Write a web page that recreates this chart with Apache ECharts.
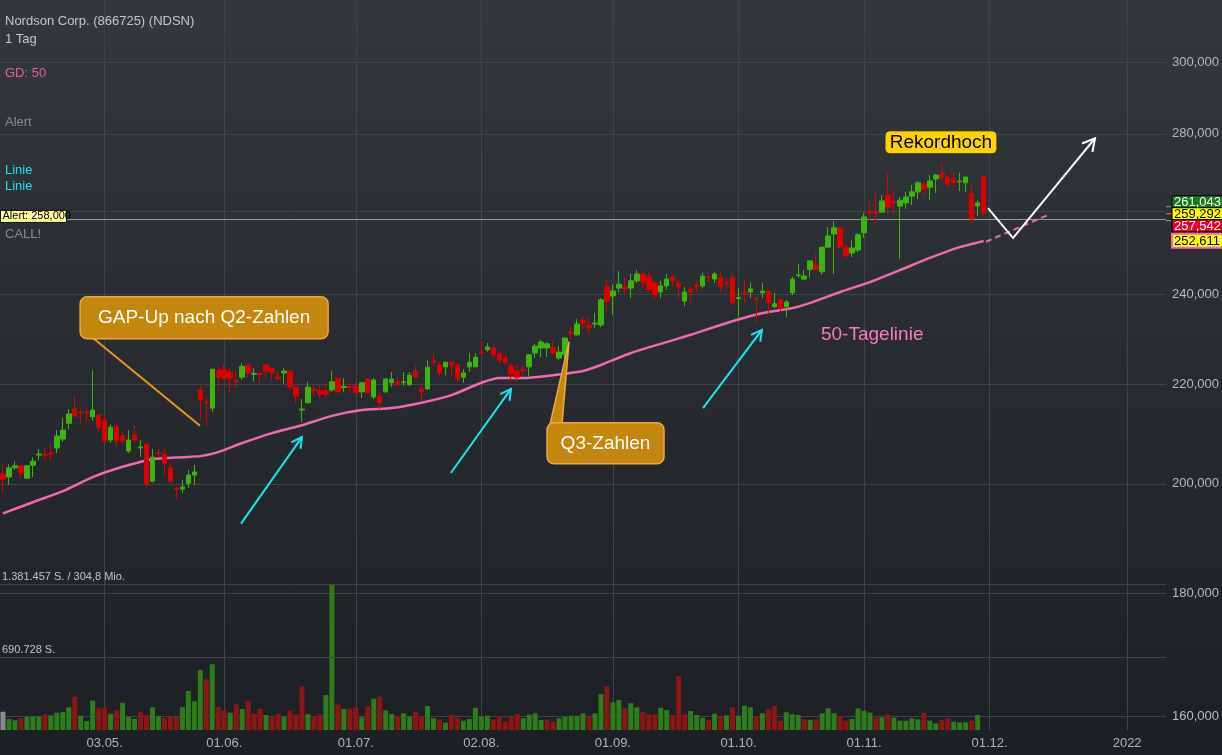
<!DOCTYPE html>
<html><head><meta charset="utf-8">
<script src="https://cdn.jsdelivr.net/npm/echarts@6/dist/echarts.min.js"></script>
<style>html,body{margin:0;padding:0;background:#24282c;}#c{width:1222px;height:755px;}</style>
</head><body><div id="c"></div>
<script>
// ---------- DATA (prices in thousands USD, volume in thousand shares) ----------
const opens=[201.9,201.3,203.1,203.5,201.1,203.6,205.6,205.8,206.0,207.0,208.8,212.0,214.9,214.3,214.3,213.3,213.7,212.7,208.6,211.4,209.4,206.4,209.6,207.0,207.8,200.5,206.1,205.8,203.1,199.1,199.0,200.1,201.7,218.9,216.4,215.1,223.1,223.3,222.7,220.8,221.6,224.2,222.2,222.4,224.2,223.5,221.6,222.5,222.9,219.5,214.7,216.2,219.0,218.7,218.7,218.9,221.4,219.4,219.6,219.7,218.5,221.2,217.4,217.6,218.5,220.4,220.6,220.4,220.0,222.9,219.1,219.1,225.0,224.2,223.8,224.8,224.2,221.6,223.8,223.8,227.0,227.5,227.9,226.6,225.7,224.0,222.9,223.2,223.8,226.8,227.9,227.9,227.9,225.7,226.4,231.4,230.8,234.1,232.8,233.2,233.0,241.7,239.6,241.4,241.7,241.4,243.1,244.7,244.0,242.6,240.5,241.9,244.0,242.6,238.4,241.2,242.1,241.9,244.1,243.5,243.8,242.7,243.8,239.0,240.4,240.5,239.0,240.3,240.7,237.1,238.7,237.1,240.3,244.3,243.5,245.8,246.8,245.2,251.1,254.3,255.8,251.1,249.7,250.4,254.6,259.8,259.6,259.7,264.0,262.3,261.2,262.0,263.7,264.8,266.8,266.0,268.1,269.4,268.6,268.1,267.4,267.1,264.3,261.2,268.8];
const closes=[200.9,203.1,203.5,202.1,203.5,204.4,205.8,205.6,205.8,209.4,210.6,213.9,213.5,214.1,214.1,214.7,211.2,208.4,211.2,208.4,208.4,208.6,208.6,207.2,199.9,205.2,205.9,204.0,200.5,198.9,199.4,201.7,202.3,216.8,216.2,223.3,221.6,221.4,221.4,220.6,223.9,222.5,222.4,222.2,222.9,222.5,221.2,222.9,219.5,217.6,214.9,219.5,218.8,218.0,218.0,220.6,218.5,219.6,219.4,218.3,220.4,218.3,221.0,216.2,221.2,221.2,220.0,220.6,222.0,221.6,218.5,223.7,224.8,222.5,224.8,224.2,221.2,222.5,224.8,225.9,226.8,228.1,226.4,225.3,224.8,222.2,221.6,223.0,226.4,228.3,229.2,228.8,226.8,227.0,230.1,231.2,233.2,233.4,232.3,233.4,238.7,238.4,240.7,242.3,241.2,243.1,244.7,242.8,241.0,239.8,241.9,243.5,243.1,241.7,240.5,240.5,241.7,244.2,243.9,244.7,241.7,242.5,238.0,239.2,240.2,241.2,238.8,240.7,238.0,237.8,236.8,238.2,243.5,244.5,244.2,247.8,245.8,251.1,253.8,255.8,251.1,249.0,250.9,254.1,258.5,259.6,259.4,262.5,260.9,262.1,262.7,263.5,264.8,267.1,265.5,267.6,269.1,268.6,266.8,267.3,267.6,268.6,258.0,262.0,259.3];
const lows=[198.2,199.8,202.7,200.9,200.9,201.3,204.6,204.6,204.4,206.0,208.2,210.8,213.3,212.0,212.5,212.5,210.2,208.0,208.0,207.2,208.0,206.0,208.0,205.2,199.6,200.3,205.2,201.7,200.3,197.1,198.2,199.2,199.8,212.7,211.4,214.3,218.5,221.0,218.3,219.3,221.0,221.4,220.6,220.4,221.4,221.0,220.8,220.2,218.9,216.2,212.2,216.2,217.6,217.2,217.2,218.5,218.3,218.5,218.5,218.3,217.2,218.1,217.0,214.9,218.3,219.5,219.5,219.7,219.7,221.6,216.6,218.9,224.0,221.6,222.0,222.0,220.6,220.4,222.7,223.8,226.1,227.1,225.9,224.4,224.2,220.6,220.6,221.8,221.8,225.7,225.9,225.9,226.4,225.3,225.1,229.7,230.6,231.9,231.2,232.3,232.5,236.2,235.3,240.3,240.3,239.1,242.6,241.4,240.5,238.9,239.1,241.0,241.7,239.1,237.3,238.0,240.5,241.4,242.8,242.6,240.5,241.7,237.8,234.8,238.0,239.1,233.7,239.1,235.7,236.8,235.7,234.8,239.8,243.8,243.3,243.8,245.4,244.5,250.9,244.7,250.9,248.5,248.7,249.9,253.3,257.7,257.0,259.4,259.4,259.4,248.2,260.5,261.5,263.0,263.7,262.7,264.5,267.6,266.3,266.0,265.0,264.8,257.0,258.7,258.7];
const highs=[203.8,203.8,204.4,203.7,203.5,205.2,206.8,207.0,208.0,210.6,213.1,214.9,217.8,214.7,214.9,223.1,213.7,213.3,211.8,211.8,210.4,210.6,211.6,208.6,207.8,206.8,206.8,206.8,204.2,199.4,200.7,202.7,203.7,220.4,217.4,223.3,223.7,224.6,223.5,222.7,224.6,224.4,223.5,222.5,224.2,223.7,222.7,223.5,223.1,219.5,217.0,220.6,219.9,219.9,220.4,222.9,221.6,221.4,220.4,220.4,220.6,221.4,221.4,218.5,221.4,222.7,221.6,222.7,222.7,224.0,220.4,225.3,226.6,224.8,224.8,224.8,224.6,223.3,226.8,226.8,229.7,229.0,228.6,227.2,227.0,224.4,224.4,224.4,226.6,228.8,229.7,229.2,229.4,228.3,230.3,232.5,234.3,234.8,234.8,235.7,239.1,243.5,242.3,245.4,244.0,244.7,245.6,245.6,245.2,243.3,243.1,244.7,244.5,243.1,241.7,241.7,243.1,245.0,245.0,245.2,245.2,243.8,244.7,241.4,243.3,242.8,239.4,242.6,240.7,240.3,238.9,238.7,244.0,247.0,245.6,247.8,249.4,251.1,256.0,257.5,256.0,252.1,252.8,254.5,259.5,262.2,264.5,264.0,269.7,265.3,263.5,264.8,266.5,267.6,266.8,269.1,269.4,272.0,268.6,269.9,269.7,268.6,266.5,262.7,268.8];
const volumes=[173,104,92,114,123,126,126,149,139,164,170,215,315,135,85,277,205,211,154,186,258,123,107,170,139,215,130,114,130,123,215,369,272,568,480,622,220,186,164,243,199,277,154,202,142,123,154,123,183,145,413,151,126,149,331,1381.457,243,199,205,215,120,227,296,315,186,151,132,158,126,173,132,227,111,101,69,142,116,88,104,211,126,135,101,132,79,126,154,111,145,158,95,97,79,111,123,135,135,158,126,158,338,413,262,284,205,253,215,173,149,149,211,189,142,511,149,180,142,116,97,154,132,139,215,135,230,215,132,158,196,230,88,167,149,142,104,95,101,158,205,158,132,88,104,205,183,164,120,120,145,116,88,88,111,101,164,88,63,95,111,79,73,73,88,142];
const maIdx=[0,5,10,15,20,25,30,33,36,40,45,50,55,60,65,70,75,80,83,87,92,97,100,105,110,115,120,125,128,132,135,140,145,150,155,160,164];
const maVal=[194.4,196.5,198.6,201.3,203.3,204.8,205.2,205.4,206.2,208.0,210.0,211.6,213.5,214.7,215.1,216.2,217.8,220.4,221.4,221.4,222.0,222.9,224.2,226.8,228.8,230.8,233.0,235.0,235.9,236.8,238.0,240.5,242.8,245.6,248.5,251.1,252.6];
const priceTicks=[160,180,200,220,240,260,280,300];
const volLevels=[1381.457,690.728];
const volLevelLabels=['1.381.457 S. / 304,8 Mio.','690.728 S.'];
const alertLevel=258;
const priceTags=[261.043,259.292,257.542,252.611];
const tickDates=['2021-05-03','2021-06-01','2021-07-01','2021-08-02','2021-09-01','2021-10-01','2021-11-01','2021-12-01','2022-01-03'];
const tickLabels=['03.05.','01.06.','01.07.','02.08.','01.09.','01.10.','01.11.','01.12.','2022'];
const holidays=['2021-05-31','2021-07-05','2021-09-06','2021-11-25'];
const firstDay='2021-04-08', lastDay='2021-11-30', totalSlots=195;

// ---------- categories: trading days, then future weekdays ----------
const categories=[];
(function(){
  let t=Date.parse(firstDay+'T00:00:00Z');
  while(categories.length<totalSlots){
    const d=new Date(t), s=d.toISOString().slice(0,10), wd=d.getUTCDay();
    if(wd!==0&&wd!==6&&(s>lastDay||holidays.indexOf(s)<0)) categories.push(s);
    t+=86400000;
  }
})();
const tickMap=new Map(tickDates.map((d,i)=>[d,tickLabels[i]]));

const FONT='"Liberation Sans", Arial, Helvetica, sans-serif';
const GRID='#3f4449';
const fmtPrice=v=>String(Math.round(v*1000)).replace(/\B(?=(\d{3})+(?!\d))/g,',');

const candleData=opens.map((o,i)=>[o,closes[i],lows[i],highs[i]]);
const volData=volumes.map((v,i)=>({value:v,itemStyle:{color: i===0?'#8a8a8a':(closes[i]>=closes[i-1]?'#2e7c1c':'#8c1515')}}));
const maData=maIdx.map((i,k)=>[i,maVal[k]]);

const chart=echarts.init(document.getElementById('c'),null,{renderer:'canvas'});
const option={
  animation:false,
  backgroundColor:new echarts.graphic.LinearGradient(0,0,0,1,[{offset:0,color:'#33383c'},{offset:1,color:'#1c1f23'}]),
  textStyle:{fontFamily:FONT},
  grid:{left:0,top:0,width:1166,height:730,containLabel:false},
  xAxis:{type:'category',data:categories,boundaryGap:true,
    axisLine:{show:false},axisTick:{show:false},splitLine:{show:false},
    axisLabel:{interval:(i,v)=>tickMap.has(v),formatter:v=>tickMap.get(v)||'',color:'#b4b4b4',fontSize:13,margin:7,fontFamily:FONT}},
  yAxis:[
    {type:'log',logBase:10,min:157.861,max:318.42,show:false,splitLine:{show:false}},
    {type:'value',min:0,max:1381.457*5,show:false,splitLine:{show:false}}
  ],
  series:[
    {type:'bar',name:'Volumen',xAxisIndex:0,yAxisIndex:1,barWidth:5,data:volData,z:1,
      markLine:{silent:true,symbol:'none',animation:false,
        lineStyle:{color:GRID,width:1,type:'solid'},
        label:{show:true,position:'insideStartTop',color:'#c4c4c4',fontSize:11,distance:[2,2],fontFamily:FONT},
        data:volLevels.map((v,i)=>({yAxis:v,label:{formatter:volLevelLabels[i]}}))}},
    {type:'line',name:'GD 50',xAxisIndex:0,yAxisIndex:0,data:maData,showSymbol:false,smooth:0.2,z:2,
      lineStyle:{color:'#f06aaf',width:2.5}},
    {type:'candlestick',name:'NDSN',xAxisIndex:0,yAxisIndex:0,data:candleData,barWidth:5,z:3,
      itemStyle:{color:'#3db40f',color0:'#dd0000',borderColor:'#3db40f',borderColor0:'#dd0000',borderWidth:1},
      markLine:{silent:true,symbol:'none',animation:false,z:1,
        lineStyle:{color:GRID,width:1,type:'solid'},
        label:{show:true,position:'end',color:'#b9b9b9',fontSize:13,distance:6,fontFamily:FONT,formatter:p=>fmtPrice(p.value)},
        data:[].concat(
          priceTicks.map(v=>v===260?{yAxis:v,label:{show:false}}:{yAxis:v}),
          tickDates.map(d=>({xAxis:d,label:{show:false}})),
          [{yAxis:alertLevel,label:{show:false},lineStyle:{color:'#9a9a9a',width:1}}]
        )}}
  ]
};
chart.setOption(option);

// ---------- annotations anchored in data space ----------
const x0=chart.convertToPixel({xAxisIndex:0},0);
const bw=chart.convertToPixel({xAxisIndex:0},1)-x0;
const X=i=>x0+i*bw;
const Y=v=>chart.convertToPixel({yAxisIndex:0},v);
const P=(i,v)=>[X(i),Y(v)];
const g=[];
const txt=(x,y,text,fill,size,align,extra)=>g.push(Object.assign({type:'text',x:x,y:y,z:100,
  style:{text:text,fill:fill,font:size+'px '+FONT,align:align||'left',verticalAlign:'middle'}},extra||{}));
function head(a,b,len,ang){
  const t=Math.atan2(b[1]-a[1],b[0]-a[0]);
  return [[b[0]-len*Math.cos(t-ang),b[1]-len*Math.sin(t-ang)],b,[b[0]-len*Math.cos(t+ang),b[1]-len*Math.sin(t+ang)]];
}
function arrow(a,b,color,w,len){
  g.push({type:'line',z:100,shape:{x1:a[0],y1:a[1],x2:b[0],y2:b[1]},style:{stroke:color,lineWidth:w}});
  g.push({type:'polyline',z:100,shape:{points:head(a,b,len,0.5)},style:{stroke:color,lineWidth:w,fill:null}});
}
// header texts
txt(5,21,'Nordson Corp. (866725) (NDSN)','#c6c6c6',13);
txt(5,39,'1 Tag','#c6c6c6',13);
txt(5,73,'GD: 50','#e8619f',13);
txt(5,122,'Alert','#8a8a8a',13);
txt(5,170,'Linie','#16e6f0',13);
txt(5,186,'Linie','#16e6f0',13);
txt(5,234,'CALL!','#8a8a8a',13);
// alert label
const ay=Y(alertLevel);
g.push({type:'rect',z:100,shape:{x:0.5,y:ay-8.5,width:66,height:12},style:{fill:'#ffff99',stroke:'#111',lineWidth:1}});
txt(2.5,ay-2.5,'Alert: 258,000','#000',11);
// GAP-Up callout
const gapA=P(15.05,230.1), gapB=P(32.95,211.5);
g.push({type:'line',z:100,shape:{x1:gapA[0],y1:gapA[1],x2:gapB[0],y2:gapB[1]},style:{stroke:'#e8961e',lineWidth:2}});
const gb=P(12.9,239.4);
g.push({type:'rect',z:101,shape:{x:gb[0],y:gb[1],width:248,height:42,r:7},style:{fill:'#c4860f',stroke:'#eaa846',lineWidth:1.5}});
txt(gb[0]+124,gb[1]+21,'GAP-Up nach Q2-Zahlen','#ffffff',19,'center',{z:102});
// Q3 callout
const qb=P(90.98,212.1), qtip=P(94.66,229.3);
g.push({type:'polygon',z:100,shape:{points:[[qb[0]+2,qb[1]+6],[qb[0]+15,qb[1]+1],qtip]},style:{fill:'#c4860f',stroke:'#eaa846',lineWidth:1.5}});
g.push({type:'rect',z:101,shape:{x:qb[0],y:qb[1],width:117,height:41,r:7},style:{fill:'#c4860f',stroke:'#eaa846',lineWidth:1.5}});
g.push({type:'polygon',z:101,shape:{points:[[qb[0]+4,qb[1]+5],[qb[0]+14,qb[1]+1.5],[qb[0]+14,qb[1]+6]]},style:{fill:'#c4860f'}});
txt(qb[0]+58.5,qb[1]+21,'Q3-Zahlen','#ffffff',19,'center',{z:102});
// cyan arrows
arrow(P(39.8,192.5),P(50.0,209.2),'#1ee3f0',2,12);
arrow(P(74.9,202.1),P(84.96,219.1),'#1ee3f0',2,12);
arrow(P(117.07,215.1),P(126.93,231.9),'#1ee3f0',2,12);
// 50-Tagelinie label
const tl=P(136.8,230.8);
txt(tl[0],tl[1],'50-Tagelinie','#f57dbd',19);
// Rekordhoch
const rk=P(147.5,280.8);
g.push({type:'rect',z:100,shape:{x:rk[0],y:rk[1],width:112,height:23,r:5},style:{fill:'#ffd200',stroke:'#2a2a2a',lineWidth:1}});
txt(rk[0]+56,rk[1]+12,'Rekordhoch','#000000',19,'center',{z:101});
// pink dashed projection of the 50-day line
const d1=P(164.4,252.4), d2=P(175.1,259.2);
g.push({type:'line',z:100,shape:{x1:d1[0],y1:d1[1],x2:d2[0],y2:d2[1]},style:{stroke:'#f06aaf',lineWidth:2,lineDash:[6,4]}});
// white zigzag scenario arrow
const z1=P(164.73,260.7), z2=P(168.92,253.3), z3=P(182.63,278.8);
g.push({type:'polyline',z:100,shape:{points:[z1,z2,z3]},style:{stroke:'#ffffff',lineWidth:2,fill:null}});
g.push({type:'polyline',z:100,shape:{points:head(z2,z3,14,0.5)},style:{stroke:'#ffffff',lineWidth:2,fill:null}});
// price tags on the right
const tagStyle=[
  {bg:'#1c7a1c',fg:'#ffffff',bd:'#000000',bw:1},
  {bg:'#ffff00',fg:'#000000',bd:'#000000',bw:1},
  {bg:'#e8002e',fg:'#ffffff',bd:'#000000',bw:1},
  {bg:'#ffff00',fg:'#000000',bd:'#f36cb4',bw:2}
];
const th=12, anchor=1;
const cy=priceTags.map(v=>Y(v));
const py=cy.slice();
for(let k=anchor-1;k>=0;k--) py[k]=Math.min(cy[k],py[k+1]-th);
for(let k=anchor+1;k<priceTags.length;k++) py[k]=Math.max(cy[k],py[k-1]+th+(tagStyle[k].bw>1?2:0));
priceTags.forEach((v,k)=>{
  const s=tagStyle[k];
  if(k<3) g.push({type:'line',z:100,shape:{x1:1166,y1:cy[k],x2:1171,y2:cy[k]},style:{stroke:'#9a9a9a',lineWidth:1}});
  const h=th+(s.bw>1?2:0);
  g.push({type:'rect',z:101,shape:{x:1172,y:py[k]-h/2,width:52,height:h},style:{fill:s.bg,stroke:s.bd,lineWidth:s.bw}});
  txt(1174,py[k]+0.5,fmtPrice(v),s.fg,13,'left',{z:102});
});
chart.setOption({graphic:{elements:g}});
</script></body></html>
